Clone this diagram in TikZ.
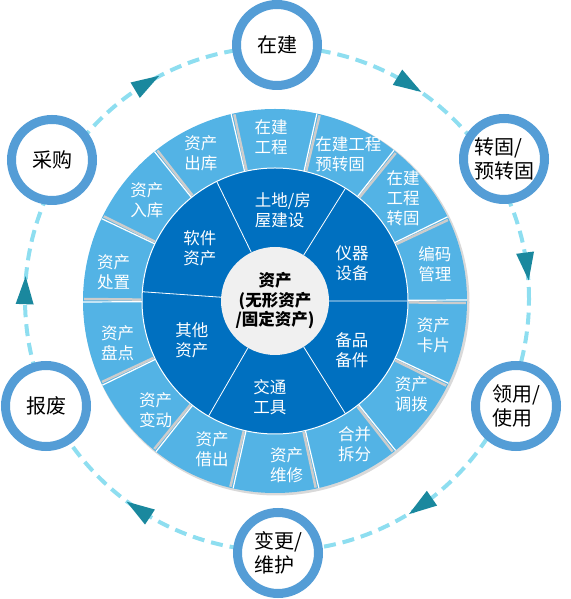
\documentclass[tikz,border=0pt]{standalone}
\usepackage{fontspec}
\setmainfont{Noto Sans CJK SC}
\usepackage{tikz}
\definecolor{ringblue}{RGB}{84,157,214}
\definecolor{segout}{RGB}{83,179,229}
\definecolor{segin}{RGB}{0,112,192}
\definecolor{hubgray}{RGB}{240,240,240}
\definecolor{dashcyan}{RGB}{142,222,240}
\definecolor{tipteal}{RGB}{26,136,158}
\tikzset{
  stage/.style={circle, draw=ringblue, line width=9pt, fill=white, minimum size=81pt,
    inner sep=0pt, align=left, font=\fontsize{20}{24}\selectfont},
  seglabel/.style={text=white, align=center, inner sep=0pt, font=\fontsize{16.5}{20}\selectfont},
  hub/.style={circle, fill=hubgray, minimum size=108pt, inner sep=0pt, align=center,
    font=\fontsize{16.5}{19.5}\selectfont\bfseries}
}

\begin{document}
\begin{tikzpicture}[x=1pt,y=1pt]
  \useasboundingbox (0,0) rectangle (570,599);
  %draw dashed cycle
    \draw[dashcyan, line width=4pt, dash pattern=on 12pt off 7pt] (277,300) circle (252);
  %draw arrowheads
    \begin{scope}[shift={(277,300)}, every path/.style={fill=tipteal}]
       \fill[rotate=121] (243,14) -- (261,14) -- (252,-14) -- cycle;
       \fill[rotate=58.3] (243,14) -- (261,14) -- (252,-14) -- cycle;
       \fill[rotate=7.4] (243,14) -- (261,14) -- (252,-14) -- cycle;
       \fill[rotate=-55.3] (243,14) -- (261,14) -- (252,-14) -- cycle;
       \fill[rotate=-123.4] (243,14) -- (261,14) -- (252,-14) -- cycle;
       \fill[rotate=178] (243,14) -- (261,14) -- (252,-14) -- cycle;
    \end{scope}
  %draw stages
    \node[stage] (zj) at (277,554) {在建};
    \node[stage] (zg) at (504,440) {转固/\\预转固};
    \node[stage] (ly) at (516,193) {领用/\\使用};
    \node[stage] (bg) at (278,46) {变更/\\维护};
    \node[stage] (bf) at (46,193) {报废};
    \node[stage] (cg) at (52,439) {采购};
  %draw wheel
    \begin{scope}[shift={(275,298)}]
       \fill[gray!30] (1.5,-1.5) circle (193);
       \fill[segout] (0,0) circle (192);
       \fill[segin] (0,0) circle (133);
       \draw[white, line width=1pt] (0,0) circle (133);
    %outer separators
       \draw[gray!40, line width=2.5pt] (-0.6:134) -- (-0.6:191) (25.1:134) -- (25.1:191)
         (50.8:134) -- (50.8:191) (76.5:134) -- (76.5:191) (102.3:134) -- (102.3:191)
         (128:134) -- (128:191) (153.7:134) -- (153.7:191) (179.4:134) -- (179.4:191)
         (205.1:134) -- (205.1:191) (230.8:134) -- (230.8:191) (256.5:134) -- (256.5:191)
         (282.3:134) -- (282.3:191) (308:134) -- (308:191) (333.7:134) -- (333.7:191);
       \draw[white, line width=1.2pt] (0.3:133) -- (0.3:192) (26:133) -- (26:192)
         (51.7:133) -- (51.7:192) (77.4:133) -- (77.4:192) (103.2:133) -- (103.2:192)
         (128.9:133) -- (128.9:192) (154.6:133) -- (154.6:192) (180.3:133) -- (180.3:192)
         (206:133) -- (206:192) (231.7:133) -- (231.7:192) (257.4:133) -- (257.4:192)
         (283.2:133) -- (283.2:192) (308.9:133) -- (308.9:192) (334.6:133) -- (334.6:192);
    %inner separators
       \draw[white, line width=0.8pt] (116:54) -- (116:133) (58:54) -- (58:133)
         (0:54) -- (0:133) (-58:54) -- (-58:133) (-120:54) -- (-120:133) (176:54) -- (176:133);
    %insert outer labels
       \node[seglabel] (o1) at (91.4:164) {在建\\工程};
       \node[seglabel, align=left] (o2) at (63.4:164) {在建工程\\预转固};
       \node[seglabel] (o3) at (38.6:164) {在建\\工程\\转固};
       \node[seglabel] (o4) at (13:164) {编码\\管理};
       \node[seglabel] (o5) at (-12.2:162) {资产\\卡片};
       \node[seglabel] (o6) at (-34.3:165) {资产\\调拨};
       \node[seglabel] (o7) at (-61:164) {合并\\拆分};
       \node[seglabel] (o8) at (-86:165) {资产\\维修};
       \node[seglabel] (o9) at (-113:161) {资产\\借出};
       \node[seglabel] (o10) at (-137.5:162) {资产\\变动};
       \node[seglabel] (o11) at (-165:163) {资产\\盘点};
       \node[seglabel] (o12) at (169.9:164) {资产\\处置};
       \node[seglabel] (o13) at (141.8:163) {资产\\入库};
       \node[seglabel] (o14) at (116.7:165) {资产\\出库};
    %insert inner labels
       \node[seglabel, align=left] (i1) at (85:91) {土地/房\\屋建设};
       \node[seglabel] (i2) at (26.3:86) {仪器\\设备};
       \node[seglabel] (i3) at (-32.5:91) {备品\\备件};
       \node[seglabel] (i4) at (-93:96) {交通\\工具};
       \node[seglabel] (i5) at (205.2:92) {其他\\资产};
       \node[seglabel] (i6) at (144.8:92) {软件\\资产};
    %insert hub
       \node[hub] (asset) at (0,0) {资产\\(无形资产\\/固定资产)};
    \end{scope}
\end{tikzpicture}
\end{document}
